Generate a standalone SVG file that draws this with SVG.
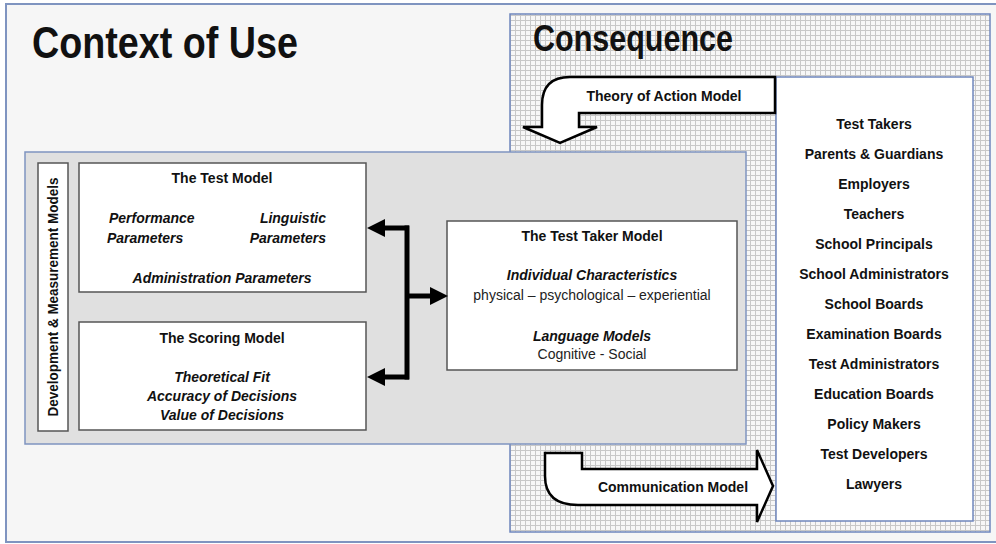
<svg xmlns="http://www.w3.org/2000/svg" width="996" height="544" viewBox="0 0 996 544">
<style>
text{font-family:"Liberation Sans",Arial,sans-serif;fill:#111;}
.t{font-size:14px;font-weight:bold;text-anchor:middle;}
.bi{font-size:14px;font-weight:bold;font-style:italic;}
.r{font-size:14px;text-anchor:middle;fill:#222;}
.box{fill:#fff;stroke:#555;stroke-width:1.5;}
.blue{stroke:#6f87bd;stroke-width:1.5;}
.con{fill:none;stroke:#000;stroke-width:5;}
.bigarrow{fill:#fff;stroke:#000;stroke-width:2.5;stroke-linejoin:miter;}
</style>
<defs>
<pattern id="grid" width="5" height="5" patternUnits="userSpaceOnUse">
<rect width="5" height="5" fill="#f7f7f7"/>
<path d="M0,0.5 H5 M0.5,0 V5" stroke="#c8c8c8" stroke-width="1"/>
</pattern>
<marker id="ah" markerUnits="userSpaceOnUse" markerWidth="20" markerHeight="20" refX="0" refY="9" orient="auto">
<path d="M0,0 L18,9 L0,18 Z" fill="#000"/>
</marker>
</defs>

<g id="context-of-use">
<rect x="6" y="4" width="996" height="538" fill="#f6f6f6" stroke="#7f94c0" stroke-width="2"/>
<text x="32" y="58" font-size="44" font-weight="bold" textLength="266" lengthAdjust="spacingAndGlyphs">Context of Use</text>
</g>

<g id="consequence">
<rect x="510" y="14" width="480" height="518" fill="url(#grid)" class="blue"/>
<text x="533" y="51" font-size="36" font-weight="bold" textLength="200" lengthAdjust="spacingAndGlyphs">Consequence</text>
</g>

<g id="stakeholders">
<rect x="776" y="77" width="197" height="444" fill="#fff" class="blue"/>
<text class="t" x="874" y="129">Test Takers</text>
<text class="t" x="874" y="159">Parents &amp; Guardians</text>
<text class="t" x="874" y="189">Employers</text>
<text class="t" x="874" y="219">Teachers</text>
<text class="t" x="874" y="249">School Principals</text>
<text class="t" x="874" y="279">School Administrators</text>
<text class="t" x="874" y="309">School Boards</text>
<text class="t" x="874" y="339">Examination Boards</text>
<text class="t" x="874" y="369">Test Administrators</text>
<text class="t" x="874" y="399">Education Boards</text>
<text class="t" x="874" y="429">Policy Makers</text>
<text class="t" x="874" y="459">Test Developers</text>
<text class="t" x="874" y="489">Lawyers</text>
</g>

<g id="theory-of-action">
<path class="bigarrow" d="M775,77 L570,77 Q542,77 542,105 L542,127 L523,127 L560,143 L597,127 L579,127 L579,113 L775,113 Z"/>
<text class="t" x="664" y="101">Theory of Action Model</text>
</g>

<g id="communication">
<path class="bigarrow" d="M545,453 L582,453 L582,469 L757,469 L757,450 L773,486 L757,522 L757,505 L578,505 Q545,505 545,476 Z"/>
<text class="t" x="673" y="492">Communication Model</text>
</g>

<g id="dev-measurement">
<rect x="25" y="152" width="721" height="292" fill="#e0e0e0" stroke="#7f94c0" stroke-width="1.5"/>
<rect class="box" x="38" y="163" width="30" height="268"/>
<text class="t" transform="translate(58,297) rotate(-90)" x="0" y="0" textLength="239" lengthAdjust="spacingAndGlyphs">Development &amp; Measurement Models</text>
</g>

<g id="test-model">
<rect class="box" x="79" y="163" width="287" height="129"/>
<text class="t" x="222" y="183">The Test Model</text>
<text class="bi" x="109" y="223">Performance</text>
<text class="bi" x="107" y="243">Parameters</text>
<text class="bi" x="326" y="223" text-anchor="end">Linguistic</text>
<text class="bi" x="326" y="243" text-anchor="end">Parameters</text>
<text class="bi" x="222" y="283" text-anchor="middle">Administration Parameters</text>
</g>

<g id="scoring-model">
<rect class="box" x="79" y="322" width="287" height="108"/>
<text class="t" x="222" y="343">The Scoring Model</text>
<text class="bi" x="222" y="382" text-anchor="middle">Theoretical Fit</text>
<text class="bi" x="222" y="401" text-anchor="middle">Accuracy of Decisions</text>
<text class="bi" x="222" y="420" text-anchor="middle">Value of Decisions</text>
</g>

<g id="test-taker-model">
<rect class="box" x="447" y="221" width="290" height="149"/>
<text class="t" x="592" y="241">The Test Taker Model</text>
<text class="bi" x="592" y="280" text-anchor="middle">Individual Characteristics</text>
<text class="r" x="592" y="300">physical – psychological – experiential</text>
<text class="bi" x="592" y="341" text-anchor="middle">Language Models</text>
<text class="r" x="592" y="359">Cognitive - Social</text>
</g>

<g id="connectors">
<path class="con" d="M407,225.5 V379.5"/>
<path class="con" d="M409,228 H385" marker-end="url(#ah)"/>
<path class="con" d="M409,377 H385" marker-end="url(#ah)"/>
<path class="con" d="M405,296 H430" marker-end="url(#ah)"/>
</g>
</svg>
